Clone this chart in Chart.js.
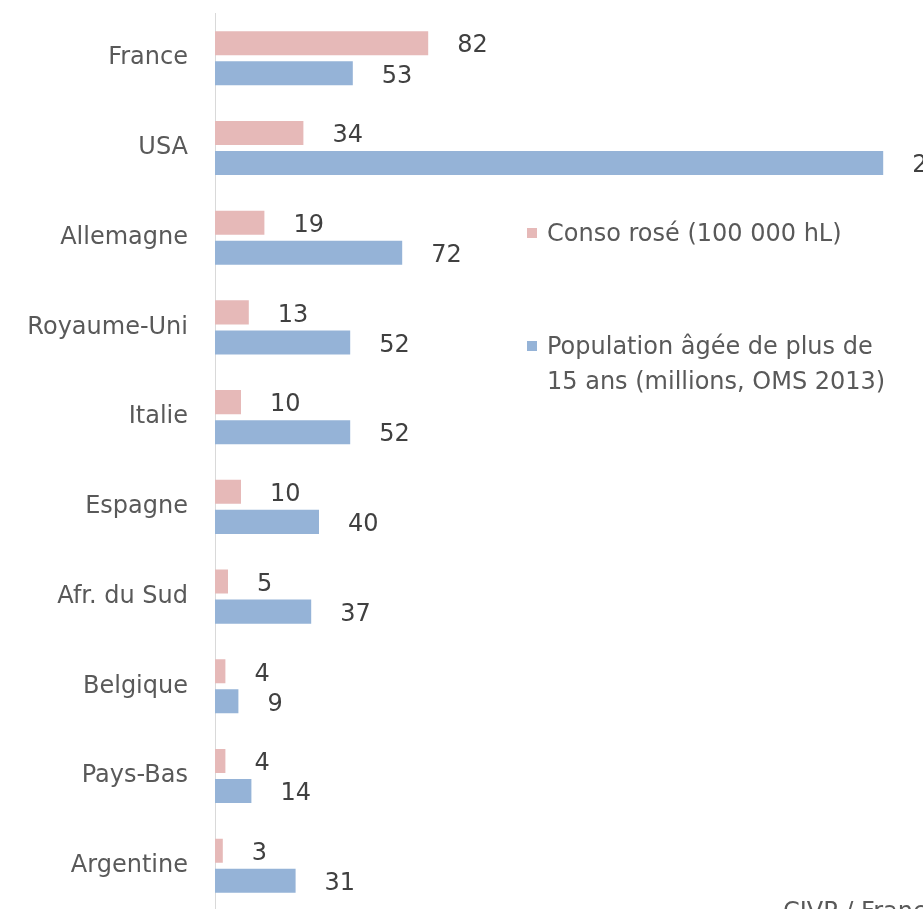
<!DOCTYPE html>
<html>
<head>
<meta charset="utf-8">
<script src="https://cdn.jsdelivr.net/npm/chart.js@4"></script>
<style>
  html, body { margin: 0; padding: 0; background: #fff; overflow: hidden; }
  #wrap { position: relative; width: 1099px; height: 909px; overflow: hidden; }
  #grafico { position: absolute; left: 0; top: -28px; }
  .leg { position: absolute; font-family: "DejaVu Sans", sans-serif; font-size: 24px; color: #595959; line-height: 35px; white-space: nowrap; }
  .leg span.box { position: absolute; left: -20px; top: 12px; width: 10px; height: 10px; }
  #source { position: absolute; left: 783px; top: 897px; font-family: "DejaVu Sans", sans-serif; font-size: 24px; color: #595959; white-space: nowrap; }
</style>
</head>
<body>
<div id="wrap">
  <canvas id="grafico" width="1099" height="980"></canvas>
  <div class="leg" style="left:547px; top:216px;"><span class="box" style="background:#E6B9B8"></span>Conso rosé (100 000 hL)</div>
  <div class="leg" style="left:547px; top:329px;"><span class="box" style="background:#95B3D7"></span>Population âgée de plus de<br>15 ans (millions, OMS 2013)</div>
  <div id="source">CIVP / FranceAgriMer</div>
</div>
<script>
const pays = ["France", "USA", "Allemagne", "Royaume-Uni", "Italie", "Espagne", "Afr. du Sud", "Belgique", "Pays-Bas", "Argentine"];
const consoRose = [82, 34, 19, 13, 10, 10, 5, 4, 4, 3];
const population = [53, 257, 72, 52, 52, 40, 37, 9, 14, 31];

// etiquettes de valeur a droite des barres
const etiquettes = {
    id: 'etiquettes',
    afterDatasetsDraw(chart) {
        const ctx = chart.ctx;
        ctx.save();
        ctx.font = '24px "DejaVu Sans", sans-serif';
        ctx.fillStyle = '#404040';
        ctx.textAlign = 'left';
        ctx.textBaseline = 'middle';
        chart.data.datasets.forEach((ds, i) => {
            chart.getDatasetMeta(i).data.forEach((bar, j) => {
                ctx.fillText(ds.data[j], bar.x + 29, bar.y + 3);
            });
        });
        ctx.restore();
    }
};

const ctx = document.getElementById('grafico').getContext('2d');
new Chart(ctx, {
    type: 'bar',
    data: {
        labels: pays,
        datasets: [{
            label: 'Conso rosé (100 000 hL)',
            data: consoRose,
            backgroundColor: '#E6B9B8',
            categoryPercentage: 0.67,
            barPercentage: 0.8
        }, {
            label: 'Population âgée de plus de 15 ans (millions, OMS 2013)',
            data: population,
            backgroundColor: '#95B3D7',
            categoryPercentage: 0.67,
            barPercentage: 0.8
        }]
    },
    options: {
        indexAxis: 'y',
        responsive: false,
        maintainAspectRatio: false,
        animation: false,
        layout: { padding: { top: 12, right: 0, bottom: 0, left: 0 } },
        plugins: {
            legend: { display: false },
            tooltip: { enabled: false }
        },
        scales: {
            x: {
                display: false,
                min: 0,
                max: 340
            },
            y: {
                grid: { display: false, drawTicks: false },
                border: { display: true, color: '#D9D9D9', width: 1 },
                ticks: {
                    color: '#595959',
                    font: { family: '"DejaVu Sans", sans-serif', size: 24 },
                    padding: 27
                },
                afterFit(scale) { scale.width = 215; }
            }
        }
    },
    plugins: [etiquettes]
});
</script>
</body>
</html>
